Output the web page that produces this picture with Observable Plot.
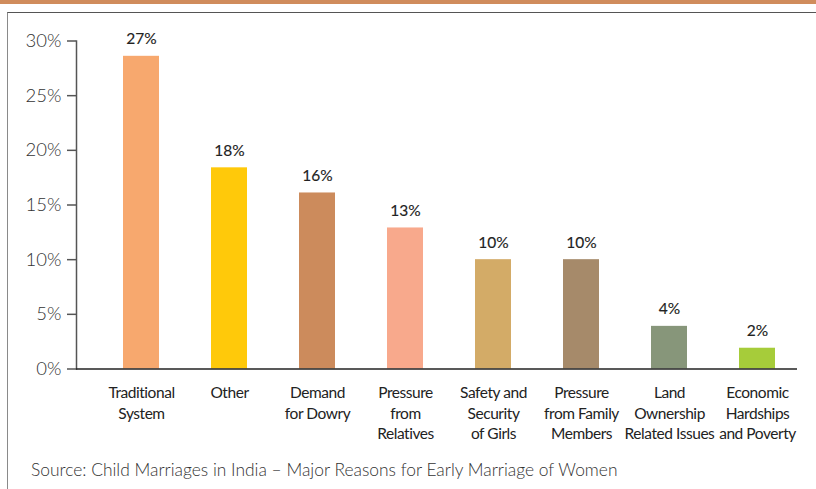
<!DOCTYPE html>
<html>
<head>
<meta charset="utf-8">
<script src="https://cdn.jsdelivr.net/npm/d3@7"></script>
<script src="https://cdn.jsdelivr.net/npm/@observablehq/plot@0.6"></script>
<style>
  html, body { margin: 0; padding: 0; background: #fff; }
  body { width: 816px; height: 489px; position: relative; overflow: hidden; font-family: Lato, "Open Sans", sans-serif; }
  #band { position: absolute; top: 0; left: 0; width: 816px; height: 4px; background: #D08C5C; }
  #frame { position: absolute; top: 12px; left: 7px; width: 812px; height: 480px; border-top: 1.5px solid #555; border-left: 1.5px solid #8a8a8a; }
  #chart { position: absolute; top: 0; left: 0; }
  #chart g[aria-label="x-axis tick label"] text { letter-spacing: -0.45px; }
  #caption { position: absolute; left: 31px; top: 460px; font-size: 17.4px; line-height: 20px; color: #333; white-space: nowrap; font-weight: 300; }
</style>
</head>
<body>
<div id="band"></div>
<div id="frame"></div>
<div id="chart"></div>
<div id="caption">Source: Child Marriages in India – Major Reasons for Early Marriage of Women</div>
<script>
const categories = ["Traditional System", "Other", "Demand for Dowry", "Pressure from Relatives", "Safety and Security of Girls", "Pressure from Family Members", "Land Ownership Related Issues", "Economic Hardships and Poverty"];
const tickLabels = ["Traditional\nSystem", "Other", "Demand\nfor Dowry", "Pressure\nfrom\nRelatives", "Safety and\nSecurity\nof Girls", "Pressure\nfrom Family\nMembers", "Land\nOwnership\nRelated Issues", "Economic\nHardships\nand Poverty"];
const values = [28.6, 18.4, 16.1, 12.9, 10.0, 10.0, 3.9, 1.9];
const valueLabels = ["27%", "18%", "16%", "13%", "10%", "10%", "4%", "2%"];
const colors = ["#F7A86E", "#FFC90A", "#CC8B5C", "#F8A98C", "#D3AB67", "#A68A6A", "#87967A", "#A6CC3A"];
const yTicks = [0, 5, 10, 15, 20, 25, 30];

const data = categories.map((c, i) => ({category: c, value: values[i], label: valueLabels[i], tick: tickLabels[i]}));
const tickMap = new Map(categories.map((c, i) => [c, tickLabels[i]]));

const chart = Plot.plot({
  width: 816,
  height: 450,
  marginLeft: 76,
  marginRight: 19,
  marginTop: 40.5,
  marginBottom: 81.5,
  style: {fontFamily: "Lato, 'Open Sans', sans-serif", background: "transparent", color: "#333"},
  x: {domain: categories, padding: 0, insetLeft: 17, insetRight: -7, label: null},
  y: {domain: [0, 30], label: null},
  color: {domain: categories, range: colors},
  marks: [
    Plot.barY(data, {x: "category", y: "value", fill: "category", insetLeft: 26, insetRight: 26}),
    Plot.frame({anchor: "left", stroke: "#555", strokeWidth: 1.5}),
    Plot.ruleY([0], {stroke: "#222", strokeWidth: 1.5}),
    Plot.axisY({ticks: yTicks, tickFormat: d => d + "%", tickSize: 9, tickPadding: 6, fontSize: 18.5, fontWeight: 300, stroke: "#555", strokeWidth: 1.5, fill: "#333", label: null}),
    Plot.axisX({tickSize: 0, tickPadding: 14, tickFormat: d => tickMap.get(d), fontSize: 15.5, lineHeight: 1.34, fill: "#222", fontWeight: 400, label: null}),
    Plot.text(data, {x: "category", y: "value", text: "label", lineAnchor: "bottom", dy: -12, fontSize: 15.5, fontWeight: 400, fill: "#222", stroke: "#222", strokeWidth: 0.15})
  ]
});
document.getElementById("chart").appendChild(chart);
</script>
</body>
</html>
